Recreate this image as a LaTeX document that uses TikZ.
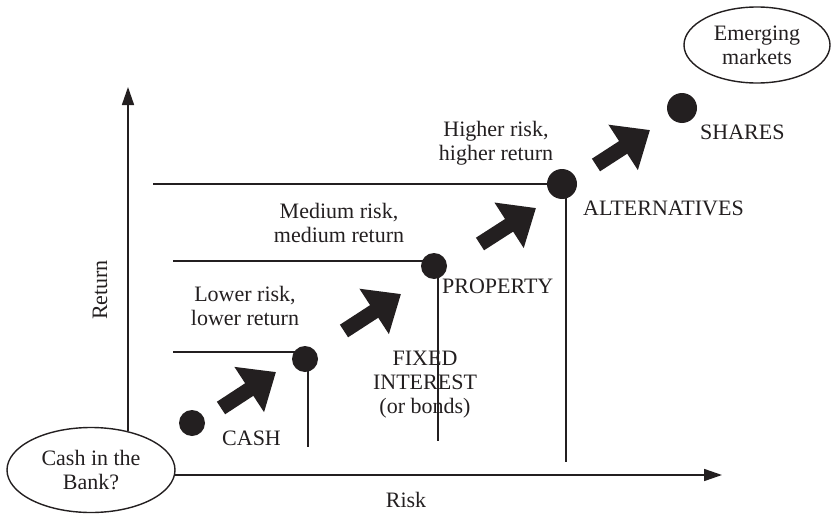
\documentclass[tikz,border=0pt]{standalone}
\usepackage{fontspec}
\setmainfont{Liberation Serif}
\usetikzlibrary{arrows.meta,shapes.geometric}
\definecolor{ink}{RGB}{35,31,32}
\begin{document}
\begin{tikzpicture}[x=1pt,y=-1pt,
  lbl/.style={font=\fontsize{22}{24}\selectfont, text=ink, inner sep=0pt, align=center},
  ln/.style={draw=ink, line width=1.6pt},
  axis/.style={ln, -{Triangle[width=12pt,length=18pt]}},
  dot/.style={circle, fill=ink, inner sep=0pt, minimum size=#1},
  blk/.style={draw=ink, line width=15pt, -{Triangle[width=52pt,length=32pt]}},
  oval/.style={ellipse, draw=ink, line width=1.4pt, inner sep=0pt, align=center,
    font=\fontsize{22}{24}\selectfont, text=ink}]
\useasboundingbox (0,0) rectangle (833,514);

% ovals
\node[oval, minimum width=168pt, minimum height=85pt] (bank) at (91,470) {Cash in the\\Bank?};
\node[oval, minimum width=146pt, minimum height=76pt] (emerg) at (757,45) {Emerging\\markets};

% axes
\coordinate (yo) at (128,431);
\coordinate (ytip) at (128,87);
\coordinate (xo) at (175,475);
\coordinate (xtip) at (722,475);
\draw[axis] (yo) -- (ytip);
\draw[axis] (xo) -- (xtip);
\node[lbl] (risk) at (406,500) {Risk};
\node[lbl, rotate=90] (ret) at (100,290) {Return};

% step positions
\coordinate (pcash) at (192,423);
\coordinate (pfix) at (305,359);
\coordinate (pprop) at (434,266);
\coordinate (palt) at (562,184);
\coordinate (pshr) at (682,108);

% levels and drop lines
\coordinate (h1) at (173,352);
\coordinate (h2) at (173,261);
\coordinate (h3) at (153,184);
\coordinate (v1) at (308,447);
\coordinate (v2) at (438,441);
\coordinate (v3) at (566,462);
\draw[ln] (h1) -- (h1 -| pfix);
\draw[ln] (h2) -- (h2 -| pprop);
\draw[ln] (h3) -- (h3 -| palt);
\draw[ln] (v1 |- pfix) -- (v1);
\draw[ln] (v2 |- pprop) -- (v2);
\draw[ln] (v3 |- palt) -- (v3);

% dots
\node[dot=26pt] (cash) at (pcash) {};
\node[dot=26pt] (fixed) at (pfix) {};
\node[dot=26pt] (prop) at (pprop) {};
\node[dot=30pt] (alt) at (palt) {};
\node[dot=30pt] (shr) at (pshr) {};

% block arrows between the steps
\coordinate (a1s) at (221,408); \coordinate (a1e) at (276,372);
\coordinate (a2s) at (344,331); \coordinate (a2e) at (401,294);
\coordinate (a3s) at (480,244); \coordinate (a3e) at (536,208);
\coordinate (a4s) at (596,165); \coordinate (a4e) at (650,130);
\draw[blk] (a1s) -- (a1e);
\draw[blk] (a2s) -- (a2e);
\draw[blk] (a3s) -- (a3e);
\draw[blk] (a4s) -- (a4e);

% labels (multi-line ones are placed by the baseline of their last line)
\node[lbl, anchor=base west] (cashl) at (222,445) {CASH};
\node[lbl, anchor=base] (fixedl) at (425,413) {FIXED\\INTEREST\\(or bonds)};
\node[lbl, anchor=base west] (propl) at (442,293) {PROPERTY};
\node[lbl, anchor=base west] (altl) at (583,215) {ALTERNATIVES};
\node[lbl, anchor=base west] (shrl) at (700,139) {SHARES};

\node[lbl, anchor=base] (lowl) at (245,325) {Lower risk,\\lower return};
\node[lbl, anchor=base] (medl) at (339,242) {Medium risk,\\medium return};
\node[lbl, anchor=base] (higl) at (496,160) {Higher risk,\\higher return};
\end{tikzpicture}
\end{document}
